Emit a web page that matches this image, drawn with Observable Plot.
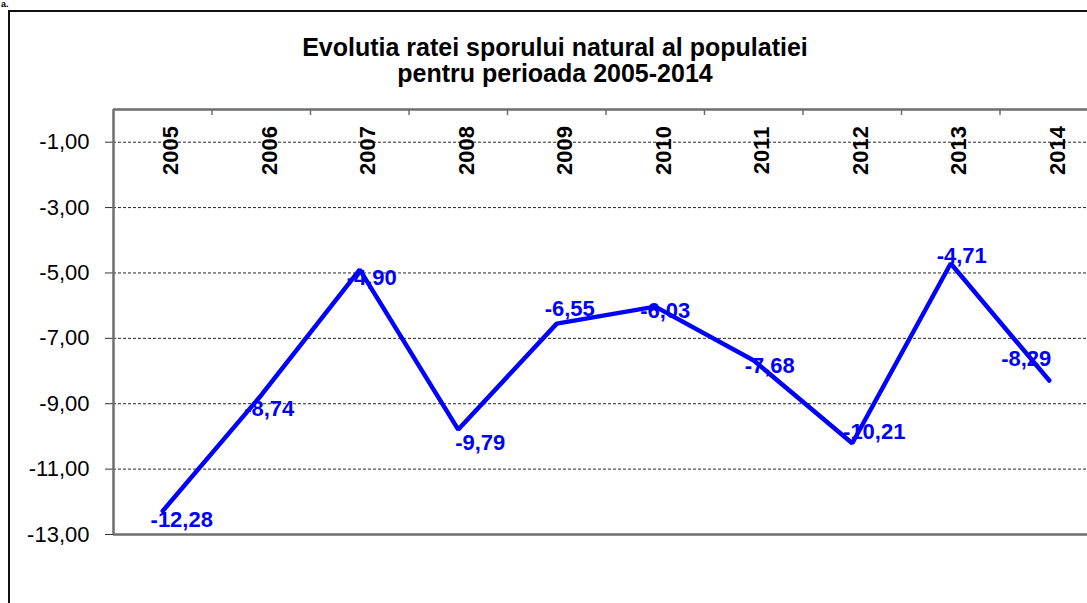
<!DOCTYPE html>
<html>
<head>
<meta charset="utf-8">
<script src="https://cdn.jsdelivr.net/npm/d3@7"></script>
<script src="https://cdn.jsdelivr.net/npm/@observablehq/plot@0.6"></script>
<style>
  html, body { margin: 0; padding: 0; background: #fff; overflow: hidden; width: 1087px; height: 603px; }
  body { position: relative; font-family: "Liberation Sans", Arial, sans-serif; }
  #corner { position: absolute; left: 1px; top: 0px; font: bold 9px/9px "Liberation Sans", Arial, sans-serif; color: #000; }
  #frame { position: absolute; left: 8px; top: 10px; width: 1200px; height: 700px; border: 2px solid #111; box-sizing: border-box; }
  #title { position: absolute; left: 0; top: 34px; width: 1110px; text-align: center; font: bold 25px/26px "Liberation Sans", Arial, sans-serif; color: #000; }
  #chart { position: absolute; left: 0; top: 89px; width: 1110px; }
  #chart svg { max-width: none !important; }
</style>
</head>
<body>
<div id="corner">a.</div>
<div id="frame"></div>
<div id="title">Evolutia ratei sporului natural al populatiei<br>pentru perioada 2005-2014</div>
<div id="chart"></div>
<script>
// ---- data ----
const years = [2005, 2006, 2007, 2008, 2009, 2010, 2011, 2012, 2013, 2014];
const rates = [-12.28, -8.74, -4.90, -9.79, -6.55, -6.03, -7.68, -10.21, -4.71, -8.29];
const yTicks = [-1, -3, -5, -7, -9, -11, -13];

// label placement (pixel offsets of each data label from its point)
const labelDx = [19, 8, 12, 22, 13, 10, 16, 22, 11, -23];
const labelDy = [9, 14, 8, 13, -15, 4, 5, -11, -8, -22];

const data = years.map((y, i) => ({year: y, value: rates[i]}));
const fmt = v => v.toFixed(2).replace(".", ",");
const boundaries = years.slice(0, -1).map(y => y + 0.5);
const font = '"Liberation Sans", Arial, sans-serif';
const axisColor = "#6e6e6e";

const W = 1110, H = 514, MT = 20, MB = 69, ML = 113, MR = 12;
const plotH = H - MT - MB;

const labelMarks = data.map((d, i) => Plot.text([d], {
  x: "year", y: "value", text: dd => fmt(dd.value),
  dx: labelDx[i], dy: labelDy[i],
  fill: "#0000ff", fontWeight: "bold", fontSize: 22, textAnchor: "middle"
}));

const chart = Plot.plot({
  width: W, height: H,
  marginTop: MT, marginBottom: MB, marginLeft: ML, marginRight: MR,
  style: {fontFamily: font, background: "transparent", overflow: "visible", color: "#000", maxWidth: "none"},
  x: {domain: [years[0] - 0.5, years[years.length - 1] + 0.5], axis: null},
  y: {domain: [-13, 0], axis: null},
  marks: [
    Plot.gridY(yTicks.filter(t => t > -13), {stroke: "#000", strokeOpacity: 0.85, strokeDasharray: "3,2", strokeWidth: 1}),
    Plot.axisY(yTicks, {anchor: "left", tickSize: 8, tickPadding: 16, tickFormat: fmt, fontSize: 22, label: null, stroke: "#333"}),
    Plot.ruleY([0], {stroke: axisColor, strokeWidth: 2.5}),
    Plot.ruleY([-13], {stroke: axisColor, strokeWidth: 2.5}),
    Plot.ruleX([years[0] - 0.5], {stroke: axisColor, strokeWidth: 2.5}),
    Plot.ruleX(boundaries, {stroke: axisColor, strokeWidth: 1.5, insetBottom: plotH - 6}),
    Plot.text(years, {x: d => d, frameAnchor: "top", dy: 41, rotate: -90, text: d => String(d), fontWeight: "bold", fontSize: 22, fill: "#000"}),
    Plot.line(data, {x: "year", y: "value", stroke: "#0000ff", strokeWidth: 4.5, strokeLinejoin: "miter", strokeLinecap: "round"}),
    ...labelMarks
  ]
});
document.getElementById("chart").appendChild(chart);
</script>
</body>
</html>
